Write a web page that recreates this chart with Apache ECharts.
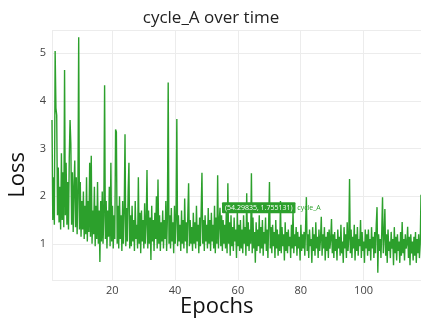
<!DOCTYPE html>
<html>
<head>
<meta charset="utf-8">
<script src="https://cdn.jsdelivr.net/npm/echarts@6/dist/echarts.min.js"></script>
<style>
  html, body { margin: 0; padding: 0; background: #fff; }
  #chart { width: 421px; height: 322px; }
</style>
</head>
<body>
<div id="chart"></div>
<script>
// epochs: first sample and spacing between logged samples
var epochStart = 0.8;
var epochStep = 0.25;

// cycle_A loss (one row = 5 epochs)
var lossValues = [
  3.6, 1.5, 2.4, 1.4, 5.05, 3.85, 3.7, 1.6, 2.6, 1.45, 2.2, 1.3, 2.9, 1.5, 2.5, 1.35, 4.65, 1.6, 2.7, 1.4,
  2.3, 1.3, 2.8, 3.6, 3.1, 1.4, 2.5, 1.25, 2.2, 2.75, 1.35, 2.4, 1.2, 2.0, 5.34, 1.3, 2.3, 1.15, 1.9, 1.3,
  2.1, 1.1, 1.8, 1.2, 2.4, 1.05, 1.9, 1.25, 2.7, 1.15, 2.85, 1.0, 1.7, 1.2, 2.2, 0.95, 1.8, 1.1, 2.3, 1.0,
  1.7, 0.62, 1.9, 1.05, 2.1, 1.0, 1.6, 4.33, 1.1, 1.9, 0.9, 1.7, 1.15, 2.2, 0.95, 2.7, 1.05, 1.8, 0.9, 1.6,
  1.1, 3.4, 3.35, 1.0, 1.8, 0.9, 2.0, 1.1, 1.6, 0.85, 1.9, 1.0, 1.7, 3.3, 0.95, 1.75, 1.05, 2.1, 2.7, 0.9,
  1.6, 0.95, 1.8, 1.05, 1.5, 0.85, 1.9, 1.1, 1.4, 0.9, 2.4, 1.0, 1.65, 0.8, 1.7, 1.05, 1.5, 0.9, 1.85, 1.0,
  1.45, 2.55, 0.9, 1.7, 1.0, 1.55, 0.66, 1.8, 1.05, 1.5, 0.85, 1.65, 1.1, 2.0, 0.9, 2.35, 1.0, 1.6, 0.85, 1.45,
  1.05, 1.7, 0.9, 1.5, 1.1, 1.9, 0.85, 1.55, 4.39, 1.0, 1.6, 0.9, 1.75, 1.05, 1.45, 0.8, 1.8, 1.0, 1.5, 3.62,
  0.95, 1.6, 1.05, 1.4, 0.85, 1.7, 1.0, 1.5, 0.9, 1.95, 1.05, 1.45, 0.8, 1.6, 2.27, 0.95, 1.5, 1.0, 1.35, 0.85,
  1.65, 1.0, 1.45, 0.9, 1.8, 1.05, 1.4, 0.8, 1.55, 0.95, 1.7, 2.49, 1.0, 1.5, 0.85, 1.6, 1.05, 1.4, 0.9, 1.75,
  1.0, 1.5, 0.85, 1.65, 1.05, 1.4, 0.9, 1.8, 0.8, 1.55, 1.0, 2.44, 0.9, 1.45, 1.755, 0.95, 1.6, 0.85, 1.5, 1.0,
  1.4, 0.9, 1.7, 0.8, 2.27, 1.0, 1.45, 0.75, 1.6, 0.95, 1.35, 0.85, 1.55, 1.05, 1.3, 0.7, 1.65, 0.95, 1.4, 0.85,
  1.5, 0.9, 1.3, 0.8, 1.6, 1.0, 1.35, 0.75, 2.06, 0.95, 1.45, 0.85, 1.3, 1.0, 2.48, 0.8, 1.55, 0.9, 1.25, 0.6,
  1.45, 0.85, 1.3, 0.95, 1.6, 0.8, 1.35, 0.9, 1.5, 0.75, 1.25, 1.0, 1.55, 0.85, 1.3, 0.7, 1.45, 2.3, 0.9, 1.35,
  0.8, 1.4, 0.95, 1.25, 0.7, 1.5, 0.9, 1.3, 0.75, 1.2, 0.85, 1.9, 0.8, 1.35, 0.95, 1.2, 0.65, 1.45, 0.85, 1.25,
  0.8, 1.3, 0.95, 1.15, 0.7, 1.4, 0.9, 1.7, 0.8, 1.2, 0.95, 1.35, 0.75, 1.25, 0.9, 1.15, 0.65, 1.4, 0.85, 1.2,
  0.9, 1.25, 0.75, 1.35, 1.98, 0.85, 1.2, 0.7, 1.3, 0.95, 1.1, 0.6, 1.35, 0.85, 1.2, 0.75, 1.45, 0.9, 1.15, 0.7,
  1.3, 0.85, 1.1, 1.57, 0.75, 1.2, 0.9, 1.35, 0.65, 1.15, 0.85, 1.25, 0.7, 1.3, 0.9, 1.1, 1.52, 0.8, 1.2, 0.7,
  1.25, 0.85, 1.1, 0.65, 1.3, 0.9, 1.15, 0.75, 1.4, 0.8, 1.05, 0.6, 1.35, 0.9, 1.2, 0.7, 1.45, 0.85, 1.1, 2.36,
  0.8, 1.3, 0.7, 1.15, 0.9, 1.4, 0.65, 1.2, 0.85, 1.35, 0.75, 1.1, 0.95, 1.5, 0.7, 1.25, 0.85, 1.05, 0.6, 1.3,
  0.9, 1.2, 0.75, 1.3, 0.85, 1.1, 0.65, 1.35, 0.9, 1.15, 0.7, 1.25, 0.8, 1.4, 1.77, 0.39, 1.2, 0.85, 1.1, 0.7,
  1.25, 1.98, 0.8, 1.15, 1.73, 0.75, 1.2, 0.6, 1.3, 0.85, 1.05, 0.7, 1.25, 0.9, 1.1, 0.55, 1.35, 0.8, 1.15, 0.65,
  1.2, 0.85, 1.05, 0.6, 1.25, 0.75, 1.46, 0.8, 1.1, 0.65, 1.2, 0.9, 1.0, 1.36, 0.7, 1.15, 0.55, 1.2, 0.8, 1.05,
  0.65, 1.15, 0.75, 1.25, 0.6, 1.1, 0.8, 1.2, 0.7, 1.0, 2.03
];

// hovered point shown in the picture
var hoverPoint = [54.29835, 1.755131];

var seriesData = [];
for (var i = 0; i < lossValues.length; i++) {
  seriesData.push([epochStart + i * epochStep, lossValues[i]]);
}

var lineColor = '#2ca02c';
var chart = echarts.init(document.getElementById('chart'), null, { renderer: 'canvas' });

var option = {
  animation: false,
  backgroundColor: '#fff',
  textStyle: { fontFamily: 'Open Sans' },
  title: {
    text: 'cycle_A over time',
    left: 206,
    top: 5,
    textAlign: 'center',
    textStyle: { fontSize: 17, fontWeight: 'normal', color: '#222', fontFamily: 'Open Sans' }
  },
  graphic: [
    {
      type: 'text', left: 7, top: 152,
      rotation: Math.PI / 2,
      style: { text: 'Loss', fontSize: 22, fill: '#111', fontFamily: 'Open Sans' }
    },
    {
      type: 'text', left: 180, top: 296,
      style: { text: 'Epochs', fontSize: 22, fill: '#111', fontFamily: 'Open Sans' }
    }
  ],
  grid: { left: 52, right: 0, top: 30, bottom: 42 },
  xAxis: {
    type: 'value',
    min: 0.8,
    max: 118.3,
    axisLine: { show: false },
    axisTick: { show: false },
    axisLabel: { color: '#444', fontSize: 11, margin: 5, showMinLabel: false, showMaxLabel: false },
    splitLine: { lineStyle: { color: '#ececec', width: 1 } }
  },
  yAxis: {
    type: 'value',
    min: 0.24,
    max: 5.49,
    axisLine: { show: false },
    axisTick: { show: false },
    axisLabel: { color: '#444', fontSize: 11, margin: 6, showMinLabel: false, showMaxLabel: false },
    splitLine: { lineStyle: { color: '#ececec', width: 1 } }
  },
  series: [{
    name: 'cycle_A',
    type: 'line',
    data: seriesData,
    showSymbol: false,
    symbol: 'none',
    lineStyle: { color: lineColor, width: 1.4 },
    markPoint: {
      symbol: 'circle',
      symbolSize: 0,
      data: [{ coord: hoverPoint }],
      label: {
        show: true,
        position: 'right',
        distance: 2,
        formatter: '{box|(' + hoverPoint[0] + ', ' + hoverPoint[1] + ')}{name| cycle_A}',
        rich: {
          box: { backgroundColor: lineColor, color: '#fff', fontSize: 7, padding: [2, 3], borderRadius: 1 },
          name: { color: lineColor, fontSize: 7 }
        }
      }
    }
  }]
};

chart.setOption(option);
</script>
</body>
</html>
